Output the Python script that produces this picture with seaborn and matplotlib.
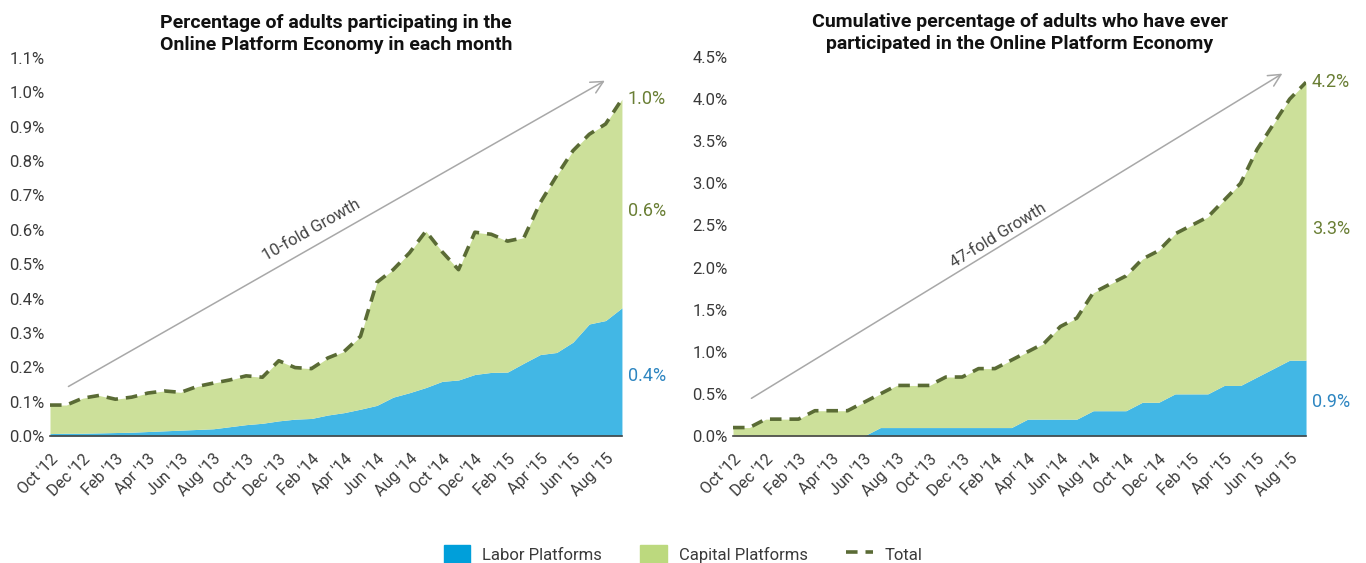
import numpy as np
import pandas as pd
import matplotlib
matplotlib.use("Agg")
import matplotlib.pyplot as plt
import seaborn as sns
from matplotlib.patches import Patch
from matplotlib.lines import Line2D

# monthly data, Oct 2012 - Sep 2015 (percent of adults)
months = pd.date_range("2012-10-01", "2015-09-01", freq="MS")
month_labels = [m.strftime("%b '%y") for m in months]

monthly_labor = [0.007, 0.008, 0.008, 0.009, 0.010, 0.011, 0.013, 0.015, 0.017, 0.019,
                 0.021, 0.027, 0.033, 0.037, 0.044, 0.049, 0.051, 0.061, 0.068, 0.078,
                 0.089, 0.113, 0.126, 0.141, 0.159, 0.163, 0.179, 0.185, 0.186, 0.212,
                 0.237, 0.243, 0.273, 0.326, 0.336, 0.373]
monthly_total = [0.090, 0.090, 0.110, 0.118, 0.107, 0.113, 0.125, 0.131, 0.127, 0.144,
                 0.154, 0.163, 0.175, 0.171, 0.219, 0.199, 0.196, 0.227, 0.246, 0.290,
                 0.447, 0.484, 0.533, 0.596, 0.536, 0.484, 0.593, 0.587, 0.567, 0.577,
                 0.679, 0.757, 0.830, 0.878, 0.908, 0.980]

cum_labor = [0.0, 0.0, 0.0, 0.0, 0.0, 0.0, 0.0, 0.0, 0.0, 0.1,
             0.1, 0.1, 0.1, 0.1, 0.1, 0.1, 0.1, 0.1, 0.2, 0.2,
             0.2, 0.2, 0.3, 0.3, 0.3, 0.4, 0.4, 0.5, 0.5, 0.5,
             0.6, 0.6, 0.7, 0.8, 0.9, 0.9]
cum_total = [0.1, 0.1, 0.2, 0.2, 0.2, 0.3, 0.3, 0.3, 0.4, 0.5,
             0.6, 0.6, 0.6, 0.7, 0.7, 0.8, 0.8, 0.9, 1.0, 1.1,
             1.3, 1.4, 1.7, 1.8, 1.9, 2.1, 2.2, 2.4, 2.5, 2.6,
             2.8, 3.0, 3.4, 3.7, 4.0, 4.2]

titles = ["Percentage of adults participating in the\nOnline Platform Economy in each month",
          "Cumulative percentage of adults who have ever\nparticipated in the Online Platform Economy"]
growth_labels = ["10-fold Growth", "47-fold Growth"]

BLUE = "#42B7E5"
GREEN = "#CCE09A"
DASH = "#5A6B35"
GREEN_TXT = "#6A7F35"
BLUE_TXT = "#2E86C1"
TXT = "#3A3A3A"

sns.set_style("white")
plt.rcParams["font.family"] = ["Roboto", "DejaVu Sans"]

fig = plt.figure(figsize=(13.66, 5.63), dpi=100)
ax1 = fig.add_axes([0.0366, 0.2256, 0.4187, 0.6714])
ax2 = fig.add_axes([0.5366, 0.2256, 0.4195, 0.6732])

panels = [
    (ax1, monthly_labor, monthly_total, 1.1, 0.1, (0.98, 0.14), (34.1, 1.038), (16.0, 0.60), 29.5),
    (ax2, cum_labor, cum_total, 4.5, 0.5, (0.98, 0.43), (33.7, 4.32), (16.2, 2.38), 31.5),
]

for i, (ax, labor, total, ymax, ystep, a0, a1, tpos, rot) in enumerate(panels):
    x = np.arange(len(months))
    labor = np.array(labor)
    total = np.array(total)
    capital = total - labor
    df = pd.DataFrame({"x": x, "total": total})

    ax.stackplot(x, labor, capital, colors=[BLUE, GREEN], linewidth=0)
    sns.lineplot(data=df, x="x", y="total", ax=ax, color=DASH, linewidth=2.6,
                 linestyle=(0, (3.2, 2.2)), legend=False)

    ax.set_xlim(0, len(months) - 1)
    ax.set_ylim(0, ymax)
    yt = np.arange(0, ymax + ystep / 2, ystep)
    ax.set_yticks(yt)
    ax.set_yticklabels([f"{v:.1f}%" for v in yt], fontsize=12, color=TXT)
    ax.set_xticks(x[::2])
    ax.set_xticklabels(month_labels[::2], rotation=45, ha="right", rotation_mode="anchor",
                       fontsize=11.5, color=TXT)
    ax.tick_params(axis="x", direction="out", length=8, width=1.2, color="#777777", pad=3)
    ax.tick_params(axis="y", length=0, pad=4)
    for s in ["top", "right", "left"]:
        ax.spines[s].set_visible(False)
    ax.spines["bottom"].set_color("#444444")
    ax.spines["bottom"].set_linewidth(1.2)
    ax.set_xlabel("")
    ax.set_ylabel("")
    ax.set_title(titles[i], fontsize=14, fontweight="bold", color="#111111", pad=6,
                 linespacing=1.25)

    ax.annotate("", xy=a1, xytext=a0,
                arrowprops=dict(arrowstyle="->", color="#A8A8A8", lw=1.1,
                                mutation_scale=22), annotation_clip=False)
    ax.text(tpos[0], tpos[1], growth_labels[i], rotation=rot, ha="center", va="center",
            fontsize=12, color="#444444")

    # end labels
    xe = len(months) - 1 + 0.35
    ax.text(xe, total[-1], f"{total[-1]:.1f}%", color=GREEN_TXT, fontsize=13,
            va="center", ha="left", clip_on=False)
    ax.text(xe, labor[-1] + capital[-1] / 2 - ymax * 0.02, f"{capital[-1]:.1f}%",
            color=GREEN_TXT, fontsize=13, va="center", ha="left", clip_on=False)
    ax.text(xe, labor[-1] / 2 - ymax * 0.01, f"{labor[-1]:.1f}%", color=BLUE_TXT,
            fontsize=13, va="center", ha="left", clip_on=False)

handles = [Patch(color="#009FDA", label="Labor Platforms"),
           Patch(color="#BCD97E", label="Capital Platforms"),
           Line2D([0], [0], color=DASH, lw=2.6, linestyle=(0, (3.2, 2.2)), label="Total")]
fig.legend(handles=handles, loc="lower center", bbox_to_anchor=(0.5, -0.03), ncol=3,
           frameon=False, fontsize=12, handlelength=1.6, handleheight=1.5,
           columnspacing=2.3, handletextpad=0.7, labelcolor=TXT)

fig.savefig("out.png", dpi=100)
